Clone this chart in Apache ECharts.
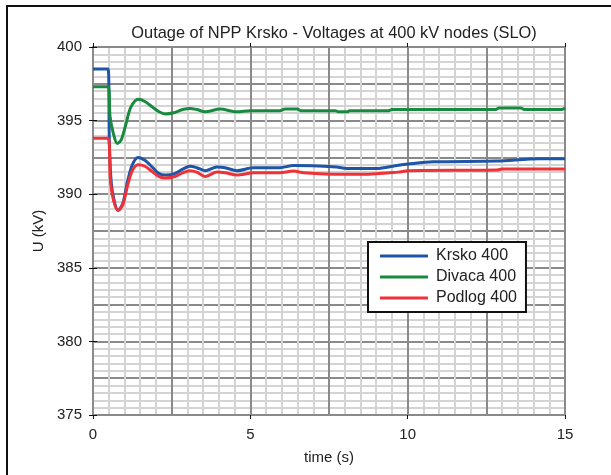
<!DOCTYPE html>
<html>
<head>
<meta charset="utf-8">
<script src="https://cdn.jsdelivr.net/npm/echarts@6/dist/echarts.min.js"></script>
<style>
  html, body { margin: 0; padding: 0; background: #fff; }
  #chart { width: 611px; height: 475px; }
  #frame { position: absolute; left: 6px; top: 5px; width: 605px; height: 470px;
           border-top: 2px solid #111; border-left: 2px solid #111; pointer-events: none; }
</style>
</head>
<body>
<div id="chart"></div>
<div id="frame"></div>
<script>
// time (s) / voltage (kV)
var krskoT = [0, 0.48, 0.52, 0.58, 0.68, 0.8, 0.95, 1.1, 1.25, 1.43, 1.65, 1.9, 2.1, 2.3, 2.6, 2.85, 3.08, 3.3, 3.56, 3.94, 4.2, 4.57, 5.1, 5.94, 6.37, 7.74, 8.06, 9.01, 9.65, 10.02, 10.81, 12.83, 14.2, 15];
var krskoU = [398.5, 398.5, 393.5, 390.8, 389.5, 388.9, 389.4, 390.9, 392.0, 392.5, 392.3, 391.8, 391.4, 391.3, 391.4, 391.7, 391.9, 391.8, 391.6, 391.85, 391.8, 391.6, 391.8, 391.8, 391.95, 391.85, 391.75, 391.75, 391.95, 392.05, 392.2, 392.25, 392.4, 392.4];

var divacaT = [0, 0.48, 0.54, 0.65, 0.77, 0.9, 1.05, 1.2, 1.44, 1.65, 1.9, 2.1, 2.29, 2.6, 2.85, 3.08, 3.3, 3.56, 4.04, 4.56, 5.0, 5.94, 6.1, 6.5, 6.6, 7.7, 7.8, 8.1, 8.15, 9.4, 9.5, 12.8, 12.9, 13.6, 13.7, 14.9, 15];
var divacaU = [397.3, 397.3, 395.3, 394.1, 393.45, 393.7, 394.8, 395.9, 396.45, 396.3, 395.9, 395.6, 395.45, 395.55, 395.75, 395.83, 395.75, 395.6, 395.78, 395.6, 395.67, 395.67, 395.78, 395.78, 395.67, 395.67, 395.6, 395.6, 395.67, 395.67, 395.76, 395.76, 395.85, 395.85, 395.76, 395.76, 395.85];

var podlogT = [0, 0.48, 0.55, 0.65, 0.8, 0.95, 1.1, 1.25, 1.43, 1.65, 1.9, 2.1, 2.3, 2.6, 2.85, 3.08, 3.3, 3.56, 3.94, 4.2, 4.57, 5.1, 5.94, 6.37, 6.7, 7.9, 8.6, 9.7, 10.02, 12.83, 13.0, 15];
var podlogU = [393.8, 393.8, 391.0, 389.6, 388.9, 389.3, 390.6, 391.6, 392.0, 391.9, 391.5, 391.2, 391.1, 391.2, 391.45, 391.6, 391.5, 391.2, 391.5, 391.45, 391.3, 391.45, 391.46, 391.57, 391.46, 391.35, 391.35, 391.5, 391.6, 391.64, 391.72, 391.72];

var seriesNames = ['Krsko 400', 'Divaca 400', 'Podlog 400'];
var seriesColors = ['#1f55a6', '#188a3e', '#ee3238'];
var xLabels = [0, 5, 10, 15];
var yLabels = [375, 380, 385, 390, 395, 400];

function pairs(t, u) {
  var out = [];
  for (var i = 0; i < t.length; i++) out.push([t[i], u[i]]);
  return out;
}

var font = 'Liberation Sans, Arial, sans-serif';
var lightGrid = '#d4d4d4';
var darkGrid = '#8a8a8a';

function baseAxis(extra) {
  var a = {
    type: 'value',
    axisLine: { show: false },
    axisTick: { show: false },
    axisLabel: { show: false },
    splitLine: { show: false }
  };
  for (var k in extra) a[k] = extra[k];
  return a;
}

var chart = echarts.init(document.getElementById('chart'));
chart.setOption({
  animation: false,
  backgroundColor: '#fff',
  title: {
    text: 'Outage of NPP Krsko - Voltages at 400 kV nodes (SLO)',
    left: 329,
    textAlign: 'center',
    top: 20,
    textStyle: { fontFamily: font, fontSize: 16.4, fontWeight: 'normal', color: '#222' }
  },
  grid: { left: 93, right: 46, top: 47, bottom: 60 },
  legend: {
    data: seriesNames,
    orient: 'vertical',
    left: 368,
    top: 242,
    padding: [6, 9, 6, 12],
    itemGap: 5,
    itemWidth: 48,
    itemHeight: 3,
    icon: 'rect',
    backgroundColor: '#fff',
    borderColor: '#111',
    borderWidth: 2,
    textStyle: { fontFamily: font, fontSize: 16, color: '#222', lineHeight: 16, padding: [0, 0, 0, 3] }
  },
  xAxis: [
    baseAxis({ min: 0, max: 15, interval: 0.5,
      splitLine: { show: true, lineStyle: { color: lightGrid, width: 2 } } }),
    baseAxis({ min: 0, max: 15, interval: 2.5,
      splitLine: { show: true, lineStyle: { color: darkGrid, width: 2 } } }),
    baseAxis({ min: 0, max: 15, interval: 5, position: 'bottom',
      axisLine: { show: true, lineStyle: { color: darkGrid, width: 2 } },
      axisTick: { show: true, length: 4, lineStyle: { color: '#111', width: 1 } },
      axisLabel: { show: true, margin: 12, fontFamily: font, fontSize: 15, color: '#222',
        formatter: function (v) { return xLabels.indexOf(v) >= 0 ? String(v) : ''; } },
      name: 'time (s)', nameLocation: 'middle', nameGap: 35,
      nameTextStyle: { fontFamily: font, fontSize: 15, color: '#222' } }),
    baseAxis({ min: 0, max: 15, interval: 5, position: 'top',
      axisLine: { show: true, lineStyle: { color: darkGrid, width: 2 } },
      axisTick: { show: true, length: 4, lineStyle: { color: '#111', width: 1 } } })
  ],
  yAxis: [
    baseAxis({ min: 375, max: 400, interval: 0.5,
      splitLine: { show: true, lineStyle: { color: lightGrid, width: 2 } } }),
    baseAxis({ min: 375, max: 400, interval: 2.5,
      splitLine: { show: true, lineStyle: { color: darkGrid, width: 2 } } }),
    baseAxis({ min: 375, max: 400, interval: 5, position: 'left',
      axisLine: { show: true, lineStyle: { color: darkGrid, width: 2 } },
      axisTick: { show: true, length: 4, lineStyle: { color: '#111', width: 1 } },
      axisLabel: { show: true, margin: 11, fontFamily: font, fontSize: 15, color: '#222',
        formatter: function (v) { return yLabels.indexOf(v) >= 0 ? String(v) : ''; } },
      name: 'U (kV)', nameLocation: 'middle', nameGap: 47,
      nameTextStyle: { fontFamily: font, fontSize: 15, color: '#222' } }),
    baseAxis({ min: 375, max: 400, interval: 5, position: 'right',
      axisLine: { show: true, lineStyle: { color: darkGrid, width: 2 } },
      axisTick: { show: true, length: 4, lineStyle: { color: '#111', width: 1 } } })
  ],
  series: [
    { name: seriesNames[0], type: 'line', data: pairs(krskoT, krskoU), symbol: 'none', smooth: 0.3,
      xAxisIndex: 2, yAxisIndex: 2, color: seriesColors[0], lineStyle: { width: 3 }, z: 5 },
    { name: seriesNames[1], type: 'line', data: pairs(divacaT, divacaU), symbol: 'none', smooth: 0.3,
      xAxisIndex: 2, yAxisIndex: 2, color: seriesColors[1], lineStyle: { width: 3 }, z: 5 },
    { name: seriesNames[2], type: 'line', data: pairs(podlogT, podlogU), symbol: 'none', smooth: 0.3,
      xAxisIndex: 2, yAxisIndex: 2, color: seriesColors[2], lineStyle: { width: 3 }, z: 6 }
  ]
});
</script>
</body>
</html>
